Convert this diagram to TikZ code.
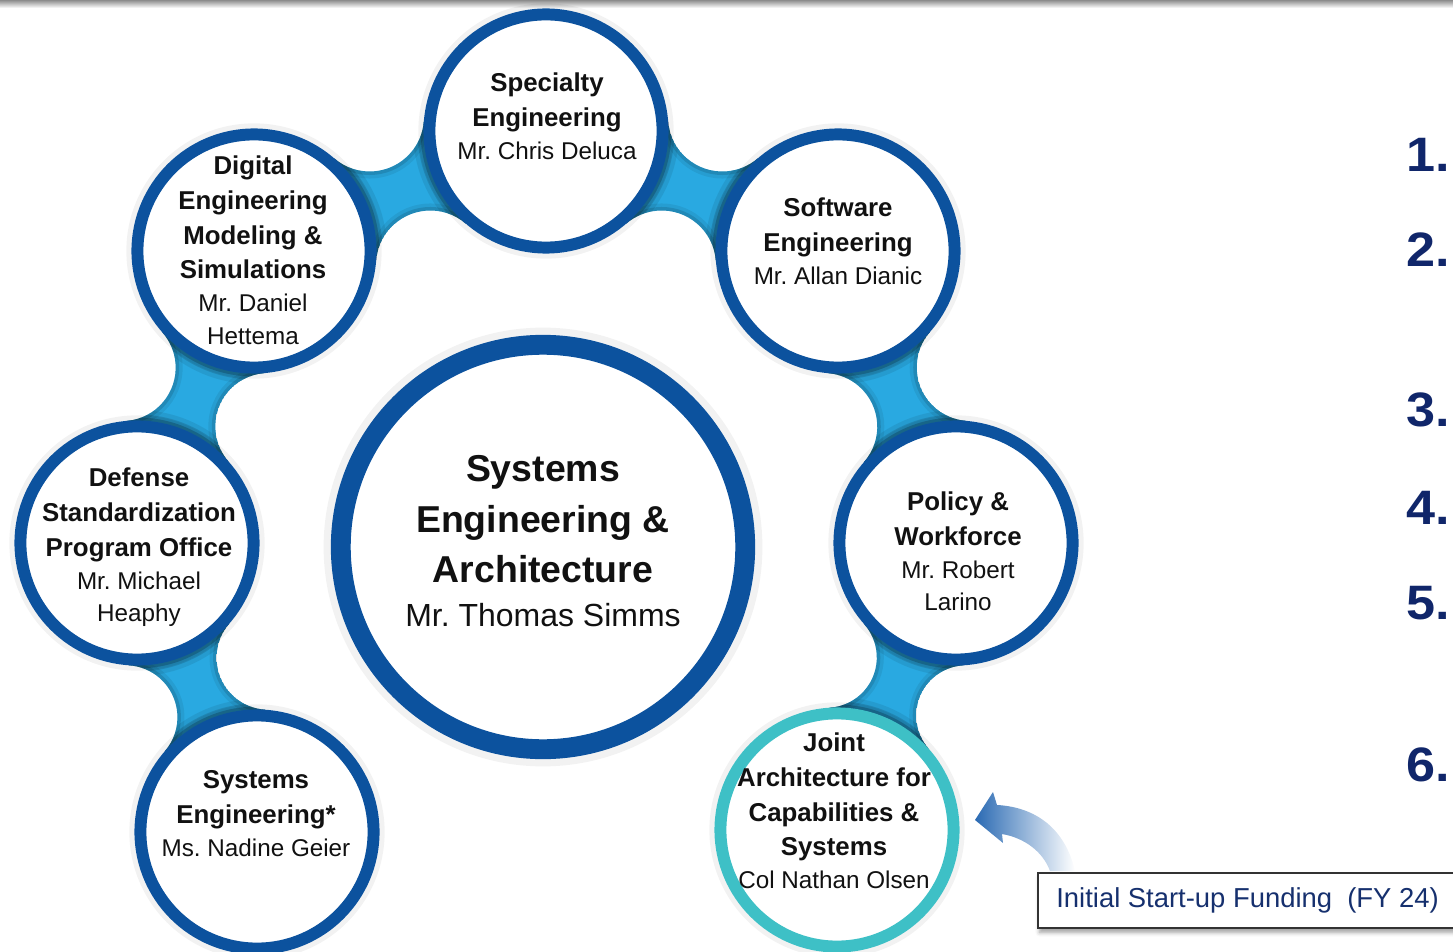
\documentclass[tikz,border=0pt]{standalone}
\usepackage{fontspec}
\setmainfont{Liberation Sans}
\newfontfamily\numfont[FakeStretch=1.08]{Liberation Sans}
\usetikzlibrary{calc,shadows.blur}
\frenchspacing

\definecolor{ringblue}{HTML}{0C529E}
\definecolor{bridgeblue}{HTML}{29A9E1}
\definecolor{ringteal}{HTML}{3EC0C6}
\definecolor{numnavy}{HTML}{10266A}
\definecolor{boxnavy}{HTML}{16306E}
\definecolor{arrowblue}{HTML}{2A6AB3}
\definecolor{inkblack}{HTML}{111111}

% type sizes (1px = 0.5669pt)
\newcommand\tb{\fontsize{14.7}{19.8}\selectfont\bfseries}
\newcommand\tn{\fontsize{13.8}{18.1}\selectfont\mdseries}
\newcommand\cb{\fontsize{21.3}{28.9}\selectfont\bfseries}
\newcommand\cn{\fontsize{18.2}{25}\selectfont\mdseries}

% bridge geometry, in units of 10pt
\def\bR{6.973}  % outer radius of a small ring
\def\bW{1.45}   % half width of the neck

\newdimen\brAx \newdimen\brAy \newdimen\brBx \newdimen\brBy
% \bridge{coord}{coord}: concave blue neck joining two ring centres,
% bounded by two circles tangent to both rings
\newcommand\bridge[2]{%
  \pgfextractx{\brAx}{\pgfpointanchor{#1}{center}}%
  \pgfextracty{\brAy}{\pgfpointanchor{#1}{center}}%
  \pgfextractx{\brBx}{\pgfpointanchor{#2}{center}}%
  \pgfextracty{\brBy}{\pgfpointanchor{#2}{center}}%
  \pgfmathsetmacro\qax{\brAx/10}\pgfmathsetmacro\qay{\brAy/10}%
  \pgfmathsetmacro\qbx{\brBx/10}\pgfmathsetmacro\qby{\brBy/10}%
  \pgfmathsetmacro\qdx{\qbx-\qax}\pgfmathsetmacro\qdy{\qby-\qay}%
  \pgfmathsetmacro\qL{veclen(\qdx,\qdy)}%
  \pgfmathsetmacro\qhd{\qL/2}%
  \pgfmathsetmacro\qrho{(\qhd*\qhd+\bW*\bW-\bR*\bR)/(2*(\bR-\bW))}%
  \pgfmathsetmacro\qh{\qrho+\bW}%
  \pgfmathsetmacro\qnx{-\qdy/\qL}\pgfmathsetmacro\qny{\qdx/\qL}%
  \pgfmathsetmacro\qmx{(\qax+\qbx)/2}\pgfmathsetmacro\qmy{(\qay+\qby)/2}%
  \pgfmathsetmacro\kax{\qmx+\qh*\qnx}\pgfmathsetmacro\kay{\qmy+\qh*\qny}%
  \pgfmathsetmacro\kbx{\qmx-\qh*\qnx}\pgfmathsetmacro\kby{\qmy-\qh*\qny}%
  \pgfmathsetmacro\tA{atan2(\qay-\kay,\qax-\kax)}%
  \pgfmathsetmacro\tB{atan2(\qby-\kay,\qbx-\kax)}%
  \pgfmathsetmacro\dA{mod(\tB-\tA+540,360)-180}%
  \pgfmathsetmacro\sB{atan2(\qby-\kby,\qbx-\kbx)}%
  \pgfmathsetmacro\sA{atan2(\qay-\kby,\qax-\kbx)}%
  \pgfmathsetmacro\dB{mod(\sA-\sB+540,360)-180}%
  \pgfmathsetmacro\pax{10*(\kax+\qrho*cos(\tA))}\pgfmathsetmacro\pay{10*(\kay+\qrho*sin(\tA))}%
  \pgfmathsetmacro\pbx{10*(\kbx+\qrho*cos(\sB))}\pgfmathsetmacro\pby{10*(\kby+\qrho*sin(\sB))}%
  \pgfmathsetmacro\rpt{10*\qrho}%
  \pgfmathsetmacro\kaxp{10*\kax}\pgfmathsetmacro\kayp{10*\kay}%
  \pgfmathsetmacro\kbxp{10*\kbx}\pgfmathsetmacro\kbyp{10*\kby}%
  \coordinate (#1-#2-k1) at (\kaxp pt,\kayp pt);
  \coordinate (#1-#2-k2) at (\kbxp pt,\kbyp pt);
  \begin{scope}
    \clip (\pax pt,\pay pt) arc[start angle=\tA, delta angle=\dA, radius=\rpt pt]
      -- (\pbx pt,\pby pt) arc[start angle=\sB, delta angle=\dB, radius=\rpt pt] -- cycle;
    \fill[bridgeblue] (\pax pt,\pay pt) arc[start angle=\tA, delta angle=\dA, radius=\rpt pt]
      -- (\pbx pt,\pby pt) arc[start angle=\sB, delta angle=\dB, radius=\rpt pt] -- cycle;
    \foreach \lw/\opq in {12pt/0.08,7pt/0.13,3.5pt/0.2}{
      \draw[black, opacity=\opq, line width=\lw]
        (#1) circle[radius=69.7pt]
        (#2) circle[radius=69.7pt];
    }
    \foreach \lw/\opq in {8pt/0.07,4pt/0.12}{
      \draw[black, opacity=\opq, line width=\lw]
        (#1-#2-k1) circle[radius=\rpt pt]
        (#1-#2-k2) circle[radius=\rpt pt];
    }
  \end{scope}%
}

\begin{document}
\begin{tikzpicture}[x=0.02cm,y=-0.02cm,
  ring/.style={circle, draw=ringblue, line width=6.8pt, fill=white,
    minimum size=132.7pt, inner sep=0pt},
  tealring/.style={ring, draw=ringteal},
  bigring/.style={circle, draw=ringblue, line width=11.3pt, fill=white,
    minimum size=230.2pt, inner sep=0pt},
  txt/.style={align=center, text=inkblack, inner sep=0pt, font=\tb},
  bigtxt/.style={align=center, text=inkblack, inner sep=0pt, font=\cb},
  num/.style={anchor=east, text=numnavy, inner sep=0pt,
    font=\numfont\bfseries\fontsize{27.5}{30}\selectfont},
  halo/.style={draw=black, opacity=0.05, line width=3pt},
  fundbox/.style={draw=black!80, line width=1.1pt, fill=white,
    minimum width=250pt, minimum height=31.2pt, inner sep=0pt,
    blur shadow={shadow xshift=1pt, shadow yshift=-2.5pt, shadow blur radius=2.5pt}},
]
\useasboundingbox (0,0) rectangle (1453,952);

% thin gray rule along the top edge
\shade[top color=black!45, bottom color=white] (0,0) rectangle (1453,8);

% ring centres
\coordinate (specC) at (546,131);
\coordinate (digC) at (254,251);
\coordinate (softC) at (838,251);
\coordinate (defC) at (137,543);
\coordinate (polC) at (956,543);
\coordinate (syseC) at (257,832);
\coordinate (jointC) at (837,830);
\coordinate (seaC) at (543,547);

% blue necks between neighbouring rings
\bridge{syseC}{defC}
\bridge{defC}{digC}
\bridge{digC}{specC}
\bridge{specC}{softC}
\bridge{softC}{polC}
\bridge{polC}{jointC}

% soft shadows round the rings
\foreach \n in {specC,digC,softC,defC,polC,syseC,jointC}
  \draw[halo] (\n) circle[radius=125];
\draw[halo, line width=5pt] (seaC) circle[radius=215];

% rings
\node[ring] (spec) at (specC) {};
\node[ring] (dig) at (digC) {};
\node[ring] (soft) at (softC) {};
\node[ring] (def) at (defC) {};
\node[ring] (pol) at (polC) {};
\node[ring] (syse) at (syseC) {};
\node[tealring] (joint) at (jointC) {};
\node[bigring] (sea) at (seaC) {};

% ring texts
\node[txt] (specT) at (547,116) {Specialty\\Engineering\\[-1pt]\tn Mr. Chris Deluca};
\node[txt] (digT) at (253,250) {Digital\\Engineering\\Modeling \&\\Simulations\\[-1pt]\tn Mr. Daniel\\[-1.5pt]\tn Hettema};
\node[txt] (softT) at (838,241) {Software\\Engineering\\[-1pt]\tn Mr. Allan Dianic};
\node[txt] (defT) at (139,547) {Defense\\Standardization\\Program Office\\[-1pt]\tn Mr. Michael\\[-1.5pt]\tn Heaphy};
\node[txt] (polT) at (958,551) {Policy \&\\Workforce\\[-1pt]\tn Mr. Robert\\[-1.5pt]\tn Larino};
\node[txt] (syseT) at (256,814) {Systems\\Engineering*\\[-1pt]\tn Ms. Nadine Geier};
\node[txt] (jointT) at (834,811) {Joint\\Architecture for\\Capabilities \&\\Systems\\[-1pt]\tn Col Nathan Olsen};
\node[bigtxt] (seaT) at (543,541) {Systems\\Engineering \&\\Architecture\\[-4pt]\cn Mr. Thomas Simms};

% list numbers at the right edge
\node[num] (n1) at (1450,155) {1.};
\node[num] (n2) at (1450,250) {2.};
\node[num] (n3) at (1450,410) {3.};
\node[num] (n4) at (1450,508) {4.};
\node[num] (n5) at (1450,603) {5.};
\node[num] (n6) at (1450,765) {6.};

% funding note and its curved arrow
\shade[left color=arrowblue, right color=white]
  (1075,871) .. controls (1065,828) and (1035,807) .. (997,805)
  -- (993,792) -- (975,820) -- (1003,843) -- (1002,834)
  .. controls (1025,838) and (1043,852) .. (1050,871) -- cycle;
\node[fundbox, anchor=north west] (fund) at (1037,872) {};
\node[anchor=west, text=boxnavy, inner sep=0pt,
  font=\fontsize{15.6}{18}\selectfont] (fundT) at (1056,900)
  {Initial Start-up Funding\ \ (FY 24)};
\end{tikzpicture}
\end{document}
